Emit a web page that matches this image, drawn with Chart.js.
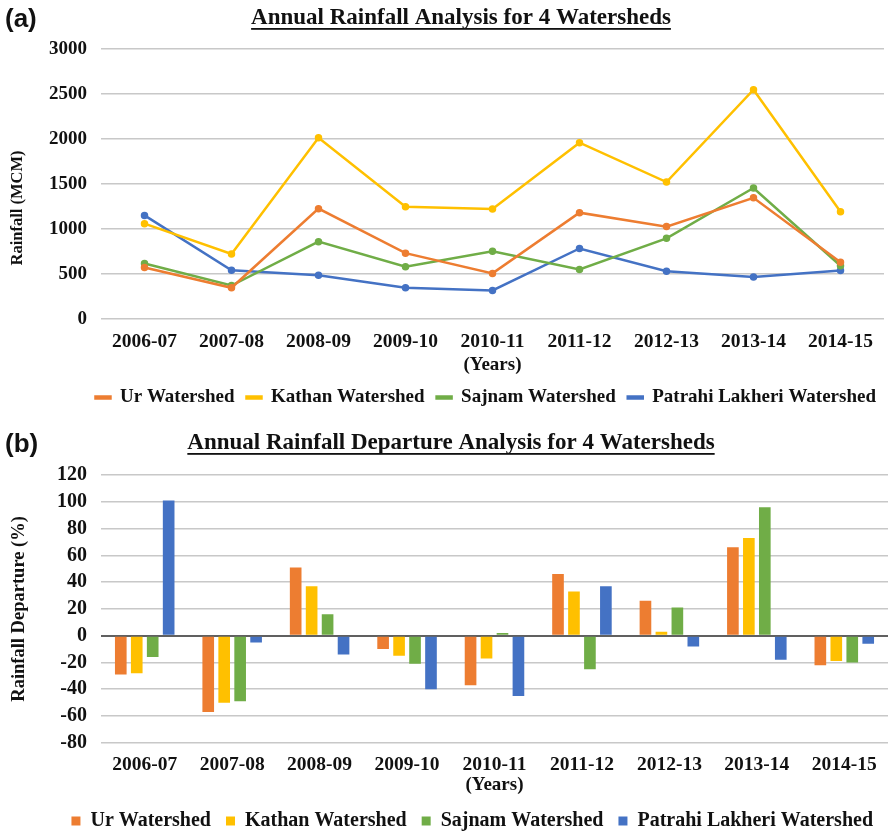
<!DOCTYPE html>
<html>
<head>
<meta charset="utf-8">
<script src="https://cdn.jsdelivr.net/npm/chart.js@4.4.1/dist/chart.umd.min.js"></script>
<style>
  html, body { margin: 0; background: #fff; overflow: hidden; }
  .box { position: absolute; left: 0; width: 889px; }
  #boxA { top: 0; height: 417px; }
  #boxB { top: 415px; height: 432px; }
</style>
</head>
<body>
<div class="box" id="boxA"><canvas id="chartA"></canvas></div>
<div class="box" id="boxB"><canvas id="chartB"></canvas></div>
<script>
var years = ['2006-07', '2007-08', '2008-09', '2009-10', '2010-11', '2011-12', '2012-13', '2013-14', '2014-15'];

// (a) annual rainfall, MCM
var urRain      = [570, 345, 1225, 730, 505, 1180, 1025, 1345, 630];
var kathanRain  = [1058, 720, 2014, 1245, 1220, 1958, 1520, 2547, 1190];
var sajnamRain  = [615, 370, 858, 578, 752, 548, 895, 1455, 590];
var patrahiRain = [1150, 540, 484, 345, 315, 782, 528, 465, 537];

// (b) rainfall departure, %
var urDep      = [-29, -57, 51, -10, -37, 46, 26, 66, -22];
var kathanDep  = [-28, -50, 37, -15, -17, 33, 3, 73, -19];
var sajnamDep  = [-16, -49, 16, -21, 2, -25, 21, 96, -20];
var patrahiDep = [101, -5, -14, -40, -45, 37, -8, -18, -6];

var names = ['Ur Watershed', 'Kathan Watershed', 'Sajnam Watershed', 'Patrahi Lakheri Watershed'];
var colors = ['#ED7D31', '#FFC000', '#70AD47', '#4472C4'];

var serif = "'Liberation Serif', 'Times New Roman', serif";
Chart.defaults.font.family = serif;
Chart.defaults.font.weight = 'bold';
Chart.defaults.color = '#111';
Chart.defaults.animation = false;

// heading with underline + panel letter (+ optional rotated y title)
function headingPlugin(tag, text, cx, cy, ytitle) {
  return {
    id: 'heading',
    afterDraw: function (chart) {
      var ctx = chart.ctx;
      ctx.save();
      ctx.fillStyle = '#111';
      ctx.font = "bold 26px 'Liberation Sans', Arial, sans-serif";
      ctx.textBaseline = 'middle';
      ctx.textAlign = 'left';
      ctx.fillText(tag, 5, cy + 2);
      ctx.font = 'bold 23px ' + serif;
      ctx.textAlign = 'center';
      ctx.fillText(text, cx, cy);
      var w = ctx.measureText(text).width;
      ctx.fillRect(cx - w / 2, cy + 10, w, 1.8);
      if (ytitle) {
        ctx.translate(ytitle.x, ytitle.y);
        ctx.rotate(-Math.PI / 2);
        ctx.font = 'bold ' + ytitle.size + 'px ' + serif;
        ctx.fillText(ytitle.text, 0, 0);
      }
      ctx.restore();
    }
  };
}

function yFit(scale) { scale.width = 101; }
function plain(v) { return String(v); }

new Chart(document.getElementById('chartA'), {
  type: 'line',
  data: {
    labels: years,
    datasets: [urRain, kathanRain, sajnamRain, patrahiRain].map(function (d, i) {
      return {
        label: names[i], data: d,
        borderColor: colors[i], backgroundColor: colors[i],
        borderWidth: 2.5, pointRadius: 2.5, pointHoverRadius: 2.5, tension: 0
      };
    })
  },
  options: {
    responsive: true,
    maintainAspectRatio: false,
    layout: { padding: { top: 49, left: 0, right: 1, bottom: 0 } },
    plugins: {
      title: { display: false },
      tooltip: { enabled: false },
      legend: {
        position: 'bottom',
        align: 'end',
        labels: { boxWidth: 15, boxHeight: 2, padding: 12, font: { size: 19 }, color: '#111' }
      }
    },
    scales: {
      x: {
        offset: true,
        grid: { display: false },
        border: { display: false },
        ticks: { maxRotation: 0, autoSkip: false, padding: 3, font: { size: 19.5 } },
        title: { display: true, text: '(Years)', font: { size: 19 }, padding: { top: -3, bottom: 0 } }
      },
      y: {
        min: 0, max: 3000,
        afterFit: yFit,
        grid: { color: '#c8c8c8', lineWidth: 1.5, drawTicks: false },
        border: { display: false },
        ticks: { stepSize: 500, padding: 14, font: { size: 19 }, callback: plain },
        title: { display: false }
      }
    }
  },
  plugins: [headingPlugin('(a)', 'Annual Rainfall Analysis for 4 Watersheds', 461, 18,
    { text: 'Rainfall (MCM)', x: 17.5, y: 208, size: 16.5 })]
});

new Chart(document.getElementById('chartB'), {
  type: 'bar',
  data: {
    labels: years,
    datasets: [urDep, kathanDep, sajnamDep, patrahiDep].map(function (d, i) {
      return {
        label: names[i], data: d,
        backgroundColor: colors[i], borderWidth: 0,
        categoryPercentage: 0.73, barPercentage: 0.73
      };
    })
  },
  options: {
    responsive: true,
    maintainAspectRatio: false,
    layout: { padding: { top: 60, left: 0, right: 1, bottom: 6 } },
    plugins: {
      title: { display: false },
      tooltip: { enabled: false },
      legend: {
        position: 'bottom',
        align: 'end',
        labels: { boxWidth: 9, boxHeight: 9, padding: 15, font: { size: 20 }, color: '#111' }
      }
    },
    scales: {
      x: {
        grid: { display: false },
        border: { display: false },
        ticks: { maxRotation: 0, autoSkip: false, padding: 2, font: { size: 19.5 } },
        title: { display: true, text: '(Years)', font: { size: 19 }, padding: { top: -5, bottom: 0 } }
      },
      y: {
        min: -80, max: 120,
        afterFit: yFit,
        grid: {
          drawTicks: false,
          color: function (c) { return c.tick && c.tick.value === 0 ? '#606060' : '#c8c8c8'; },
          lineWidth: function (c) { return c.tick && c.tick.value === 0 ? 2 : 1.5; }
        },
        border: { display: false },
        ticks: { stepSize: 20, autoSkip: false, padding: 14, font: { size: 20 }, callback: plain },
        title: { display: true, text: 'Rainfall Departure (%)', font: { size: 18.5 }, padding: { top: 8, bottom: 0 } }
      }
    }
  },
  plugins: [headingPlugin('(b)', 'Annual Rainfall Departure Analysis for 4 Watersheds', 451, 28)]
});
</script>
</body>
</html>
